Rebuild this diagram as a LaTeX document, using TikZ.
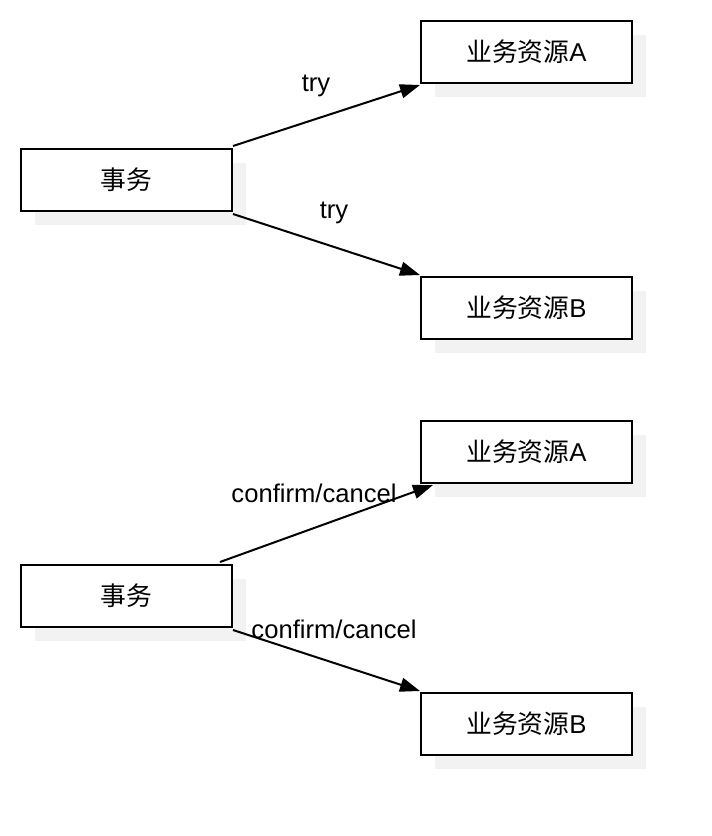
\documentclass[tikz,border=0pt]{standalone}
\usepackage{fontspec}
\setmainfont{Liberation Sans}
\newfontfamily\cjk{Noto Sans CJK SC}
\usetikzlibrary{arrows.meta,shadows}
\definecolor{shadowgray}{RGB}{242,242,242}
\tikzset{
  box/.style={draw=black, line width=2pt, fill=white, minimum width=211pt, minimum height=62pt, inner sep=0pt,
    font=\fontsize{25.8}{30}\selectfont,
    drop shadow={shadow xshift=14pt, shadow yshift=-14pt, fill=shadowgray, opacity=1}},
  conn/.style={line width=2pt, -{Triangle[length=20pt,width=14pt]}},
  lbl/.style={font=\fontsize{25.6}{30}\selectfont, inner sep=0pt}
}
\begin{document}
\begin{tikzpicture}[x=1pt,y=-1pt]
\useasboundingbox (0,0) rectangle (712,836);
\node[box] (s1) at (126.5,180) {{\cjk 事务}};
\node[box] (a1) at (526.5,52) {{\cjk 业务资源}A};
\node[box] (b1) at (526.5,308) {{\cjk 业务资源}B};
\node[box] (s2) at (126.5,596) {{\cjk 事务}};
\node[box] (a2) at (526.5,452) {{\cjk 业务资源}A};
\node[box] (b2) at (526.5,724) {{\cjk 业务资源}B};
\draw[conn] ([yshift=2pt]s1.north east) -- ([yshift=-1pt]a1.south west);
\draw[conn] ([yshift=-2pt]s1.south east) -- ([yshift=1pt]b1.north west);
\draw[conn] ([xshift=-13pt,yshift=2pt]s2.north east) -- ([xshift=13pt,yshift=-1pt]a2.south west);
\draw[conn] ([yshift=-2pt]s2.south east) -- ([yshift=1pt]b2.north west);
\node[lbl] (t1) at (316,86) {try};
\node[lbl] (t2) at (334,213) {try};
\node[lbl] (t3) at (314,493) {confirm/cancel};
\node[lbl] (t4) at (334,629) {confirm/cancel};
\end{tikzpicture}
\end{document}
